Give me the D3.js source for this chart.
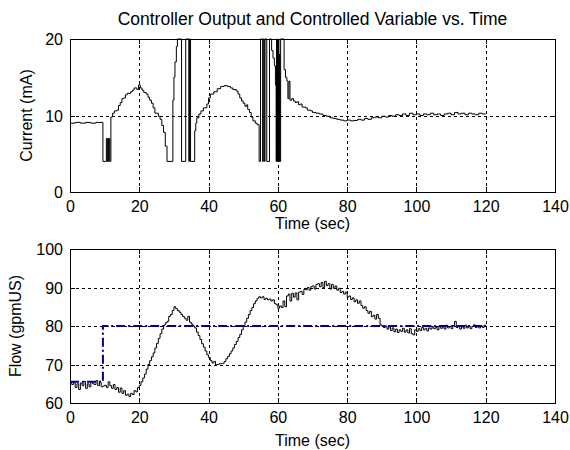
<!DOCTYPE html>
<html>
<head>
<meta charset="utf-8">
<script src="https://cdn.jsdelivr.net/npm/d3@7"></script>
<style>
  body { margin: 0; background: #fff; }
  svg { display: block; font-family: "Liberation Sans", Arial, sans-serif; }
  .grid line { stroke: #000; stroke-width: 1; stroke-dasharray: 3,3; shape-rendering: crispEdges; }
  .axis path, .axis line { stroke: #000; shape-rendering: crispEdges; }
  .axis text { font-size: 16px; fill: #000; }
  .frame { fill: none; stroke: #000; stroke-width: 1; shape-rendering: crispEdges; }
  .pv { fill: none; stroke: #000; stroke-width: 1; }
  .sp { fill: none; stroke: #000080; stroke-width: 2; stroke-dasharray: 9,3,2,3; }
  .lbl { font-size: 16px; fill: #000; }
  .ttl { font-size: 17.5px; fill: #000; }
</style>
</head>
<body>
<script>
// controller output (mA), step breakpoints
var outTime = [0, 1.5, 3, 4.5, 6, 7.5, 9.5, 10.5, 10.7, 10.9, 11.1, 11.3, 11.5, 11.8, 12.3, 12.8, 13.5, 14, 14.5, 15, 15.5, 16, 16.5, 17.5, 18, 18.5, 19.3, 19.8,
  20.3, 20.8, 21.3, 22, 22.5, 23, 23.5, 24, 24.5, 25.5, 26, 26.5, 27, 27.5, 28, 29.7, 30, 30.3, 30.7, 31, 32.2, 33.4, 34.3, 34.5, 34.8, 36, 36.3, 36.6, 37.2, 37.8,
  38.5, 39.5, 40, 40.5, 41.5, 42.5, 43.5, 44.5, 45.5, 46.3, 47, 48, 48.5, 49, 49.5, 50, 50.5, 51, 51.3, 51.8, 52.3, 52.8, 53.5, 54, 54.6, 55, 55.6, 55.8, 56.1, 56.3,
  56.8, 57.6, 58.2, 58.6, 59, 59.3, 59.5, 59.6, 59.7, 59.9, 60, 60.2, 60.3, 60.5, 60.6, 60.8, 61.8, 62.2, 62.6, 62.9, 63.2, 63.5, 64, 64.5, 65, 65.5, 66, 66.5, 67,
  68, 68.5, 69.5, 70, 71, 72, 73, 74, 75, 76, 77, 78, 79, 80, 81, 82, 83, 84, 85, 86, 87, 88, 89, 90, 91, 92, 93, 94, 95, 96, 97, 98, 99, 100, 101, 102, 103, 104,
  105, 106, 107, 108, 109, 110, 111, 112, 113, 114, 115, 116, 117, 118, 119, 120];
var outMA = [9.0, 9.1, 9.0, 9.1, 9.0, 9.1, 4.0, 7.0, 4.0, 7.0, 4.0, 7.0, 4.0, 9.8, 10.3, 10.6, 10.7, 11.3, 11.7, 12.2, 12.3, 12.7, 12.9, 13.1, 13.3, 13.6, 13.4, 14.0,
  13.6, 13.3, 13.0, 12.8, 12.4, 12.0, 11.6, 11.0, 10.3, 9.9, 9.5, 8.7, 7.8, 6.0, 4.0, 12.0, 15.0, 17.0, 19.0, 20, 4, 20, 4, 20, 4, 8.0, 9.0, 9.7, 10.2, 10.6,
  11.0, 11.5, 12.3, 12.8, 13.1, 13.5, 13.8, 13.9, 13.8, 13.6, 13.4, 13.2, 12.8, 12.3, 11.9, 11.6, 11.2, 11.4, 10.8, 10.4, 9.8, 9.3, 9.0, 8.8, 4, 20, 4, 20, 4, 20,
  4, 20, 18.5, 17.5, 16.5, 14.0, 4, 20, 4, 20, 4, 20, 4, 18, 4, 20, 16.0, 15.0, 14.5, 12.2, 14.5, 12.0, 12.2, 11.9, 11.7, 11.8, 11.4, 11.5, 11.1,
  11.0, 10.7, 10.6, 10.4, 10.3, 10.2, 10.0, 9.9, 9.7, 9.6, 9.5, 9.4, 9.3, 9.4, 9.3, 9.35, 9.5, 9.4, 9.6, 9.5, 9.7, 9.8, 9.7, 9.9, 9.8, 10.0, 9.9, 10.1, 10.0, 10.2,
  10.0, 10.3, 10.1, 10.2, 10.0, 10.2, 10.1, 10.3, 10.1, 10.2, 10.0, 10.2, 10.3, 10.1, 10.4, 10.2, 10.3, 10.1, 10.3, 10.2, 10.1, 10.3, 10.2, 10.2];

// measured flow (gpmUS), sampled every half second
var flowTime = d3.range(0, 120.5, 0.5);
var flowGpm = [65.5, 64.8, 65.3, 64.0, 65.0, 63.5, 65.2, 64.5, 65.6, 63.8, 65.0, 64.2, 65.4, 65.0, 64.8, 65.8, 64.5, 65.3, 64.2, 64.4,
  64.6, 64.0, 65.5, 64.5, 63.8, 64.8, 63.5, 64.0, 62.8, 63.9, 62.5, 63.2, 62.0, 62.3, 61.7, 62.5, 62.2, 63.2, 62.9, 64.0,
  64.6, 65.5, 66.5, 67.5, 68.8, 70.0, 71.0, 72.0, 73.0, 74.3, 75.5, 76.8, 78.0, 79.2, 80.2, 80.8, 81.2, 82.5, 83.0, 84.0,
  85.0, 84.5, 84.0, 83.6, 83.0, 82.5, 82.0, 81.5, 82.5, 81.0, 80.5, 80.0, 79.5, 78.4, 77.5, 76.5, 75.4, 74.5, 73.5, 72.5,
  71.8, 71.0, 70.4, 70.8, 69.9, 70.0, 70.2, 70.2, 70.3, 70.8, 71.5, 72.1, 72.8, 73.5, 74.3, 75.2, 76.0, 77.0, 77.8, 79.0,
  80.0, 81.0, 82.0, 83.0, 84.0, 84.8, 85.8, 86.5, 87.2, 87.6, 87.3, 87.6, 86.9, 87.2, 86.8, 87.0, 86.5, 86.8, 85.8, 85.5,
  84.6, 85.2, 84.8, 86.5, 85.0, 87.8, 88.3, 86.5, 88.5, 87.5, 88.6, 86.8, 88.8, 89.0, 88.2, 89.5, 89.4, 90.0, 89.3, 90.2,
  90.4, 89.6, 90.8, 91.0, 90.2, 91.3, 90.0, 91.6, 90.5, 91.0, 89.6, 90.8, 89.8, 90.4, 89.3, 89.8, 88.7, 89.0, 88.3, 88.8,
  87.5, 87.8, 86.9, 87.3, 86.3, 86.8, 85.9, 86.5, 85.3, 84.6, 85.0, 84.0, 83.3, 83.8, 82.4, 82.8, 81.8, 83.0, 82.0, 80.3,
  80.0, 79.6, 80.0, 79.2, 79.8, 78.8, 79.5, 78.5, 79.2, 78.3, 79.0, 78.6, 79.4, 78.4, 79.0, 78.2, 79.3, 78.0, 77.7, 79.0,
  78.6, 79.3, 78.8, 79.6, 79.0, 79.4, 78.7, 79.5, 79.2, 79.8, 79.3, 79.6, 79.0, 80.0, 79.4, 79.8, 79.2, 80.2, 79.5, 79.9,
  79.3, 80.1, 81.2, 79.6, 80.0, 79.2, 79.8, 79.4, 80.2, 79.5, 80.0, 79.3, 79.9, 80.3, 79.6, 80.1, 79.5, 80.0, 79.6, 80.2, 80.0];

// setpoint (gpmUS)
var spTime = [0, 9.5, 120];
var spGpm = [65.5, 80, 80];

var xTicks = [0, 20, 40, 60, 80, 100, 120, 140];
var outTicks = [0, 10, 20];
var flowTicks = [60, 70, 80, 90, 100];

var titleText = "Controller Output and Controlled Variable vs. Time";

var w = 570, h = 450;
var left = 70, right = 555;
var top1 = 39, bot1 = 192;
var top2 = 249, bot2 = 403;

var svg = d3.select("body").append("svg").attr("width", w).attr("height", h);

var xScale = d3.scaleLinear().domain([0, 140]).range([left, right]);
var yOut = d3.scaleLinear().domain([0, 20]).range([bot1, top1]);
var yFlow = d3.scaleLinear().domain([60, 100]).range([bot2, top2]);

function zip(ts, vs) {
  return ts.map(function(t, i) { return { t: t, v: vs[i] }; });
}

function drawPanel(yScale, yTicks, topY, botY, id) {
  var g = svg.append("g");
  // clip
  svg.append("clipPath").attr("id", id)
    .append("rect").attr("x", left).attr("y", topY - 1).attr("width", right - left).attr("height", botY - topY + 2);
  // grid
  var grid = g.append("g").attr("class", "grid");
  grid.selectAll(".vx").data(xTicks.slice(1, -1)).enter().append("line")
    .attr("x1", function(d) { return Math.round(xScale(d)) + 0.5; })
    .attr("x2", function(d) { return Math.round(xScale(d)) + 0.5; })
    .attr("y1", topY).attr("y2", botY);
  grid.selectAll(".hy").data(yTicks.slice(1, -1)).enter().append("line")
    .attr("y1", function(d) { return Math.round(yScale(d)) + 0.5; })
    .attr("y2", function(d) { return Math.round(yScale(d)) + 0.5; })
    .attr("x1", left).attr("x2", right);
  // axes (ticks inward)
  var xb = g.append("g").attr("class", "axis")
    .attr("transform", "translate(0," + botY + ")")
    .call(d3.axisBottom(xScale).tickValues(xTicks).tickSize(-5).tickPadding(20).tickSizeOuter(0));
  xb.select(".domain").remove();
  xb.selectAll("text").attr("dy", null);
  var yl = g.append("g").attr("class", "axis")
    .attr("transform", "translate(" + left + ",0)")
    .call(d3.axisLeft(yScale).tickValues(yTicks).tickSize(-5).tickPadding(7).tickSizeOuter(0));
  yl.select(".domain").remove();
  yl.selectAll("text").attr("dy", "0.36em");
  g.append("g").attr("class", "axis")
    .attr("transform", "translate(0," + topY + ")")
    .call(d3.axisTop(xScale).tickValues(xTicks).tickSize(-5).tickFormat(""))
    .call(function(s) { s.select(".domain").remove(); });
  g.append("g").attr("class", "axis")
    .attr("transform", "translate(" + right + ",0)")
    .call(d3.axisRight(yScale).tickValues(yTicks).tickSize(-5).tickFormat(""))
    .call(function(s) { s.select(".domain").remove(); });
  g.append("rect").attr("class", "frame")
    .attr("x", left + 0.5).attr("y", topY + 0.5)
    .attr("width", right - left).attr("height", botY - topY);
  return g;
}

var p1 = drawPanel(yOut, outTicks, top1, bot1, "clip1");
var p2 = drawPanel(yFlow, flowTicks, top2, bot2, "clip2");

var outLine = d3.line().curve(d3.curveStepAfter)
  .x(function(d) { return xScale(d.t); })
  .y(function(d) { return yOut(d.v); });
var flowLine = d3.line().curve(d3.curveStepAfter)
  .x(function(d) { return xScale(d.t); })
  .y(function(d) { return yFlow(d.v); });

p1.append("path").datum(zip(outTime, outMA))
  .attr("class", "pv").attr("clip-path", "url(#clip1)").attr("d", outLine);
p2.append("path").datum(zip(flowTime, flowGpm))
  .attr("class", "pv").attr("clip-path", "url(#clip2)").attr("d", flowLine);
p2.append("path").datum(zip(spTime, spGpm))
  .attr("class", "sp").attr("clip-path", "url(#clip2)").attr("d", flowLine);

// labels
svg.append("text").attr("class", "ttl")
  .attr("x", (left + right) / 2).attr("y", 25).attr("text-anchor", "middle").text(titleText);
svg.append("text").attr("class", "lbl")
  .attr("x", (left + right) / 2).attr("y", 229).attr("text-anchor", "middle").text("Time (sec)");
svg.append("text").attr("class", "lbl")
  .attr("x", (left + right) / 2).attr("y", 446).attr("text-anchor", "middle").text("Time (sec)");
svg.append("text").attr("class", "lbl")
  .attr("transform", "translate(32," + ((top1 + bot1) / 2) + ") rotate(-90)")
  .attr("text-anchor", "middle").text("Current (mA)");
svg.append("text").attr("class", "lbl")
  .attr("transform", "translate(21," + ((top2 + bot2) / 2) + ") rotate(-90)")
  .attr("text-anchor", "middle").text("Flow (gpmUS)");
</script>
</body>
</html>
